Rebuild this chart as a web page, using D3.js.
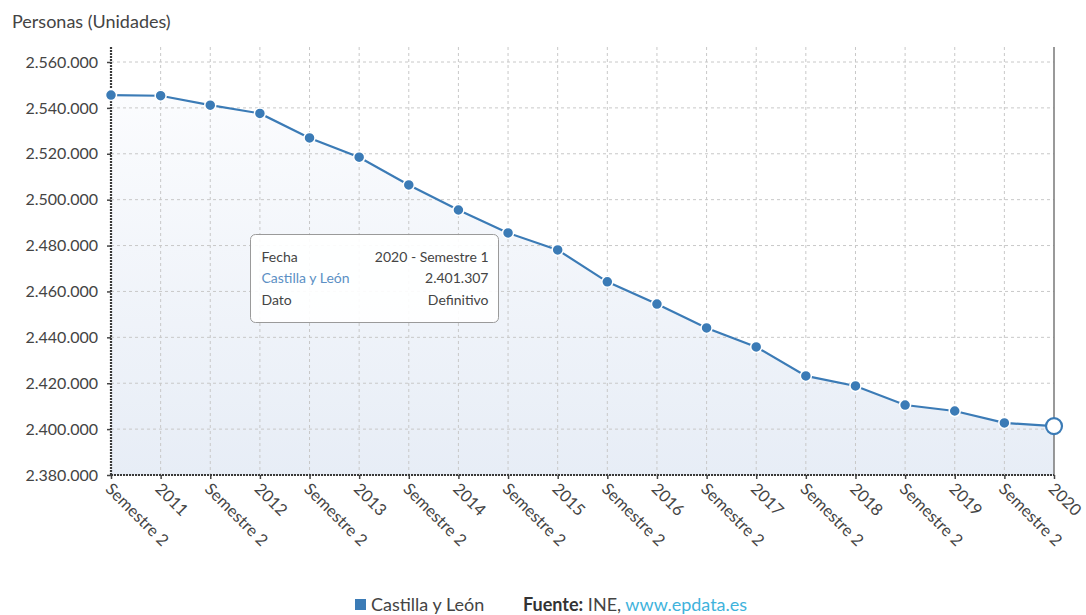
<!DOCTYPE html>
<html><head><meta charset="utf-8">
<script src="https://cdn.jsdelivr.net/npm/d3@7"></script>
<style>
html,body{margin:0;padding:0;background:#fff;}
text{font-family:Lato,"Open Sans",sans-serif;}
</style></head>
<body><svg id="c" width="1086" height="615"></svg>
<script>
const periods = ["2010-S2","2011-S1","2011-S2","2012-S1","2012-S2","2013-S1","2013-S2","2014-S1","2014-S2","2015-S1","2015-S2","2016-S1","2016-S2","2017-S1","2017-S2","2018-S1","2018-S2","2019-S1","2019-S2","2020-S1"];
const tickLabels = ["Semestre 2","2011","Semestre 2","2012","Semestre 2","2013","Semestre 2","2014","Semestre 2","2015","Semestre 2","2016","Semestre 2","2017","Semestre 2","2018","Semestre 2","2019","Semestre 2","2020"];
const values = [2545600,2545300,2541200,2537600,2526900,2518500,2506400,2495500,2485500,2478100,2464200,2454500,2444100,2435800,2423200,2418800,2410500,2407900,2402700,2401307];
const yTicks = [2380000,2400000,2420000,2440000,2460000,2480000,2500000,2520000,2540000,2560000];
const seriesName = "Castilla y León";
const yTitle = "Personas (Unidades)";
const tooltipRows = [["Fecha","2020 - Semestre 1"],[seriesName,"2.401.307"],["Dato","Definitivo"]];

const svg = d3.select("#c");
const L=111,R=1054,T=47,B=475;
const x = d3.scalePoint().domain(periods).range([L,R]);
const y = d3.scaleLinear().domain([2380000,2560000]).range([B,62]);
const fmt = v => d3.format(",")(v).replace(/,/g,".");
const blue = "#3b7bb6";

const defs = svg.append("defs");
const g = defs.append("linearGradient").attr("id","ag").attr("x1",0).attr("y1",0).attr("x2",0).attr("y2",1);
g.append("stop").attr("offset","0%").attr("stop-color","#fbfcfe");
g.append("stop").attr("offset","100%").attr("stop-color","#e7edf6");

const data = periods.map((p,i)=>({p,v:values[i]}));
svg.append("path").datum(data)
  .attr("d", d3.area().x(d=>x(d.p)).y0(B).y1(d=>y(d.v)))
  .attr("fill","url(#ag)");

svg.append("g").selectAll("line").data(yTicks).join("line")
  .attr("x1",L).attr("x2",R).attr("y1",d=>y(d)).attr("y2",d=>y(d))
  .attr("stroke","#c8c8c8").attr("stroke-dasharray","3,3");
svg.append("g").selectAll("line").data(periods.slice(1,-1)).join("line")
  .attr("x1",d=>x(d)).attr("x2",d=>x(d)).attr("y1",T).attr("y2",B)
  .attr("stroke","#c8c8c8").attr("stroke-dasharray","3,3");

svg.append("line").attr("x1",R).attr("x2",R).attr("y1",T).attr("y2",B).attr("stroke","#777").attr("stroke-width",1.5);

const ya = svg.append("g").attr("transform",`translate(${L},0)`)
  .call(d3.axisLeft(y).tickValues(yTicks).tickFormat(fmt).tickSize(4).tickPadding(9));
ya.select(".domain").remove();
ya.selectAll(".tick line").attr("stroke","#444").attr("stroke-width",1.5);
ya.selectAll(".tick text").attr("font-size",16).attr("fill","#444").attr("font-family","Lato");
svg.append("line").attr("x1",L).attr("x2",L).attr("y1",T).attr("y2",B+1)
  .attr("stroke","#3a3a3a").attr("stroke-width",2.2).attr("stroke-dasharray","2,1");

const xa = svg.append("g").attr("transform",`translate(0,${B})`)
  .call(d3.axisBottom(x).tickFormat((d,i)=>tickLabels[i]).tickSize(4));
xa.select(".domain").remove();
xa.selectAll(".tick line").attr("stroke","#444").attr("stroke-width",1.5);
xa.selectAll(".tick text").attr("font-size",16.5).attr("fill","#444").attr("font-family","Lato")
  .attr("text-anchor","start").attr("dy",0).attr("y",0)
  .attr("transform","translate(-7,15) rotate(45)");
svg.append("line").attr("x1",L).attr("x2",R).attr("y1",B).attr("y2",B)
  .attr("stroke","#3a3a3a").attr("stroke-width",2.2).attr("stroke-dasharray","2,1");

svg.append("path").datum(data)
  .attr("d", d3.line().x(d=>x(d.p)).y(d=>y(d.v)))
  .attr("fill","none").attr("stroke",blue).attr("stroke-width",2.2);
svg.append("g").selectAll("circle").data(data.slice(0,-1)).join("circle")
  .attr("cx",d=>x(d.p)).attr("cy",d=>y(d.v)).attr("r",5.5)
  .attr("fill",blue).attr("stroke","#fff").attr("stroke-width",1.5);
const last = data[data.length-1];
svg.append("circle").attr("cx",x(last.p)).attr("cy",y(last.v)).attr("r",8)
  .attr("fill","#fff").attr("stroke",blue).attr("stroke-width",2.2);

svg.append("text").attr("x",12).attr("y",28).attr("font-size",18).attr("fill","#444").text(yTitle);

const tt = svg.append("g").attr("transform","translate(250.5,234.5)");
tt.append("rect").attr("width",248).attr("height",88).attr("rx",5)
  .attr("fill","rgba(255,255,255,0.92)").attr("stroke","#9a9a9a");
tooltipRows.forEach((r,i)=>{
  tt.append("text").attr("x",11).attr("y",27+i*21.5).attr("font-size",14)
    .attr("fill", i===1? "#5b8fc4":"#444").text(r[0]);
  tt.append("text").attr("x",238).attr("y",27+i*21.5).attr("font-size",14)
    .attr("text-anchor","end").attr("fill","#444").text(r[1]);
});

svg.append("rect").attr("x",355).attr("y",599).attr("width",11).attr("height",11).attr("fill",blue);
svg.append("text").attr("x",371).attr("y",611).attr("font-size",18).attr("fill","#444").text(seriesName);
const src = svg.append("text").attr("x",523).attr("y",611).attr("font-size",18).attr("fill","#333");
src.append("tspan").attr("font-weight","bold").text("Fuente:");
src.append("tspan").attr("fill","#444").text(" INE, ");
src.append("tspan").attr("fill","#3fb3dc").text("www.epdata.es");
</script></body></html>
